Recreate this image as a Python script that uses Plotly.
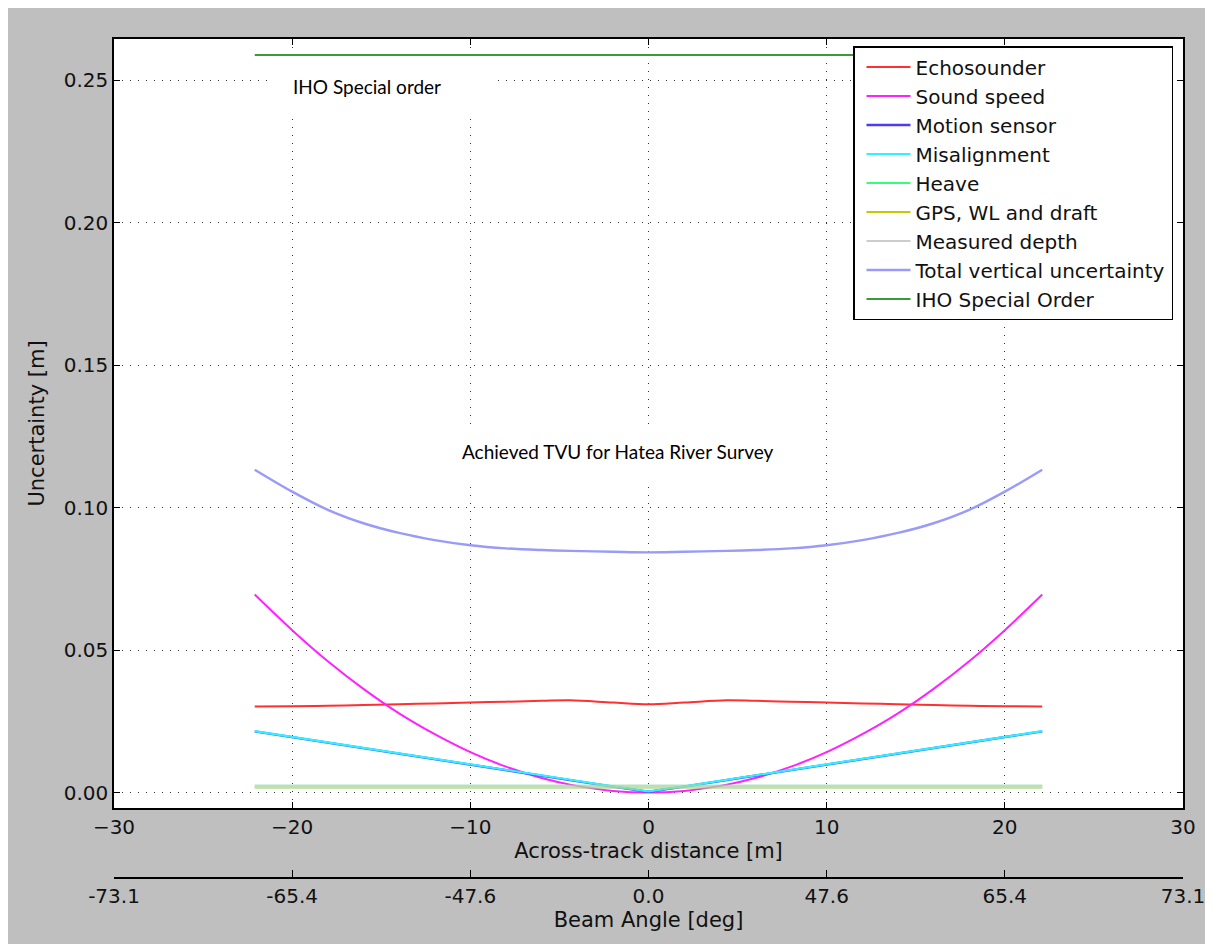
import plotly.graph_objects as go

# ---------------- data ----------------
x_dist = [-22.1, -20, -18, -16, -14, -12, -10, -8, -6, -4.4, -2, 0,
          2, 4.4, 6, 8, 10, 12, 14, 16, 18, 20, 22.1]

echosounder = [0.0302, 0.0303, 0.0305, 0.0307, 0.0310, 0.0313, 0.0316, 0.0319, 0.0322, 0.0324, 0.0316, 0.0310,
               0.0316, 0.0324, 0.0322, 0.0319, 0.0316, 0.0313, 0.0310, 0.0307, 0.0305, 0.0303, 0.0302]
sound_speed = [0.0695, 0.0570, 0.0461, 0.0364, 0.0278, 0.0205, 0.0142, 0.0091, 0.0051, 0.0028, 0.0006, 0.0000,
               0.0006, 0.0028, 0.0051, 0.0091, 0.0142, 0.0205, 0.0278, 0.0364, 0.0461, 0.0570, 0.0695]
motion_sensor = [0.0215, 0.0195, 0.0176, 0.0157, 0.0137, 0.0118, 0.0098, 0.0079, 0.0060, 0.0044, 0.0021, 0.0003,
                 0.0021, 0.0044, 0.0060, 0.0079, 0.0098, 0.0118, 0.0137, 0.0157, 0.0176, 0.0195, 0.0215]
misalignment = [0.0216, 0.0196, 0.0177, 0.0158, 0.0138, 0.0119, 0.0099, 0.0080, 0.0061, 0.0045, 0.0022, 0.0004,
                0.0022, 0.0045, 0.0061, 0.0080, 0.0099, 0.0119, 0.0138, 0.0158, 0.0177, 0.0196, 0.0216]
heave = [0.0021, 0.0021, 0.0021, 0.0021, 0.0021, 0.0021, 0.0021, 0.0021, 0.0021, 0.0021, 0.0021, 0.0021,
         0.0021, 0.0021, 0.0021, 0.0021, 0.0021, 0.0021, 0.0021, 0.0021, 0.0021, 0.0021, 0.0021]
gps_wl_draft = [0.0020, 0.0020, 0.0020, 0.0020, 0.0020, 0.0020, 0.0020, 0.0020, 0.0020, 0.0020, 0.0020, 0.0020,
                0.0020, 0.0020, 0.0020, 0.0020, 0.0020, 0.0020, 0.0020, 0.0020, 0.0020, 0.0020, 0.0020]
measured_depth = [0.0021, 0.0021, 0.0021, 0.0021, 0.0021, 0.0021, 0.0021, 0.0021, 0.0021, 0.0021, 0.0021, 0.0021,
                  0.0021, 0.0021, 0.0021, 0.0021, 0.0021, 0.0021, 0.0021, 0.0021, 0.0021, 0.0021, 0.0021]
total_tvu = [0.1133, 0.1056, 0.0992, 0.0945, 0.0911, 0.0886, 0.0868, 0.0857, 0.0851, 0.0848, 0.0845, 0.0843,
             0.0845, 0.0848, 0.0851, 0.0857, 0.0868, 0.0886, 0.0911, 0.0945, 0.0992, 0.1056, 0.1133]
iho_special = [0.2588, 0.2588, 0.2588, 0.2588, 0.2588, 0.2588, 0.2588, 0.2588, 0.2588, 0.2588, 0.2588, 0.2588,
               0.2588, 0.2588, 0.2588, 0.2588, 0.2588, 0.2588, 0.2588, 0.2588, 0.2588, 0.2588, 0.2588]

x_ticks = [-30, -20, -10, 0, 10, 20, 30]
beam_angle_labels = ["-73.1", "-65.4", "-47.6", "0.0", "47.6", "65.4", "73.1"]
y_ticks = [0.00, 0.05, 0.10, 0.15, 0.20, 0.25]

# ---------------- layout geometry (screen pixels; page body has an 8px margin) ----------------
OFF = 8
SW, SH = 1213, 944
W, H = SW - OFF, SH - OFF
PLOT_LEFT, PLOT_RIGHT, PLOT_TOP, PLOT_BOTTOM = 114, 1183, 39, 808
AXIS2_Y = 878
ML, MR, MT, MB = PLOT_LEFT - OFF, SW - PLOT_RIGHT, PLOT_TOP - OFF, SH - AXIS2_Y
PW, PH = PLOT_RIGHT - PLOT_LEFT, AXIS2_Y - PLOT_TOP


def pxx(px):
    return (px - PLOT_LEFT) / PW


def pxy(py):
    return (AXIS2_Y - py) / PH


FONT = "DejaVu Sans"
fig = go.Figure()


def line_trace(name, y, color, width, shape="spline", showlegend=True, opacity=1.0):
    fig.add_trace(go.Scatter(
        x=x_dist, y=y, name=name, mode="lines", opacity=opacity,
        line=dict(color=color, width=width, shape=shape, smoothing=1.0),
        showlegend=showlegend, hoverinfo="skip"))


def legend_only(name, color, width):
    fig.add_trace(go.Scatter(x=[None], y=[None], name=name, mode="lines",
                             line=dict(color=color, width=width)))


line_trace("Echosounder", echosounder, "#ff3030", 2)
line_trace("Sound speed", sound_speed, "#ff22ff", 2)
line_trace("Motion sensor", motion_sensor, "#4a3cff", 2.4, shape="linear")
line_trace("Misalignment", misalignment, "#2ef2ff", 2.2, shape="linear")
legend_only("Heave", "#33ff77", 2)
legend_only("GPS, WL and draft", "#c8c800", 2)
legend_only("Measured depth", "#cccccc", 2)
line_trace("GPS, WL and draft", gps_wl_draft, "#bfbf00", 4, shape="linear", showlegend=False, opacity=0.3)
line_trace("Heave", heave, "#33ff77", 4, shape="linear", showlegend=False, opacity=0.3)
line_trace("Measured depth", measured_depth, "#cccccc", 4, shape="linear", showlegend=False, opacity=0.5)
line_trace("Total vertical uncertainty", total_tvu, "#9a9af8", 2.4)
line_trace("IHO Special Order", iho_special, "#3a9a3a", 2, shape="linear")

# invisible trace so the secondary (beam angle) axis is drawn
fig.add_trace(go.Scatter(x=x_dist, y=total_tvu, xaxis="x2", mode="lines",
                         line=dict(width=0), opacity=0, showlegend=False, hoverinfo="skip"))

axis_common = dict(
    showline=True, linecolor="black", linewidth=1.6, mirror="ticks",
    ticks="inside", ticklen=6, tickwidth=1, tickcolor="black",
    showgrid=True, gridcolor="#333333", gridwidth=1, griddash="1px,7px",
    zeroline=False, tickfont=dict(family=FONT, size=20, color="#111111"),
    automargin=False,
)

fig.update_layout(
    width=W, height=H,
    margin=dict(l=ML, r=MR, t=MT, b=MB, pad=0),
    paper_bgcolor="#bfbfbf", plot_bgcolor="white",
    font=dict(family=FONT, size=20, color="#111111"),
    xaxis=dict(range=[-30, 30], tickvals=x_ticks, domain=[0, 1], anchor="y",
               title=dict(text="Across-track distance [m]", font=dict(family=FONT, size=21), standoff=3),
               **axis_common),
    yaxis=dict(range=[-0.0054, 0.2644], tickvals=y_ticks, tickformat=".2f",
               domain=[pxy(PLOT_BOTTOM), 1], anchor="x",
               title=dict(text="Uncertainty [m]", font=dict(family=FONT, size=21), standoff=13),
               **axis_common),
    xaxis2=dict(range=[-30, 30], overlaying="x", anchor="free", position=0, side="bottom",
                tickvals=x_ticks, ticktext=beam_angle_labels,
                showline=True, linecolor="black", linewidth=1.6,
                ticks="inside", ticklen=7, tickwidth=1, tickcolor="black",
                showgrid=False, zeroline=False, automargin=False,
                tickfont=dict(family=FONT, size=20, color="#111111"),
                title=dict(text="Beam Angle [deg]", font=dict(family=FONT, size=21), standoff=3)),
    legend=dict(x=pxx(1173), y=pxy(46), xanchor="right", yanchor="top",
                bgcolor="white", bordercolor="black", borderwidth=1.5,
                font=dict(family=FONT, size=20, color="#111111"),
                traceorder="normal", itemwidth=44, indentation=7),
    showlegend=True,
)

# white boxes behind the added text labels
fig.add_shape(type="rect", xref="paper", yref="paper", x0=pxx(268), x1=pxx(492), y0=pxy(57), y1=pxy(117),
              fillcolor="white", line=dict(width=0), layer="above")
fig.add_shape(type="rect", xref="paper", yref="paper", x0=pxx(437), x1=pxx(820), y0=pxy(428), y1=pxy(484),
              fillcolor="white", line=dict(width=0), layer="above")

fig.add_annotation(x=pxx(367), y=pxy(87), xref="paper", yref="paper", text="IHO Special order",
                   showarrow=False, xanchor="center", yanchor="middle",
                   font=dict(family="Lato", size=19, color="black"))
fig.add_annotation(x=pxx(617), y=pxy(452), xref="paper", yref="paper", text="Achieved TVU for Hatea River Survey",
                   showarrow=False, xanchor="center", yanchor="middle",
                   font=dict(family="Lato", size=19, color="black"))

fig.write_html("out.html")
